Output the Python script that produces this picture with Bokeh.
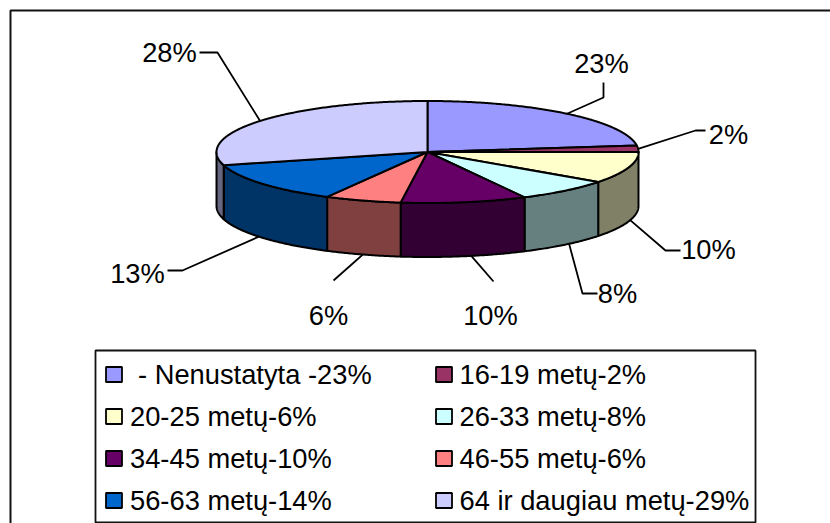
import numpy as np
from bokeh.plotting import figure
from bokeh.models import Range1d
from bokeh.core.properties import value
from bokeh.embed import file_html
from bokeh.resources import INLINE

# ---- data ----
slice_names = ["Nenustatyta", "16-19", "20-25", "26-33", "34-45", "46-55", "56-63", "64+"]
slice_values = [23, 2, 10, 8, 10, 6, 13, 28]
slice_labels = ["23%", "2%", "10%", "8%", "10%", "6%", "13%", "28%"]
legend_labels = ["- Nenustatyta -23%", "16-19 metų-2%", "20-25 metų-6%", "26-33 metų-8%",
                 "34-45 metų-10%", "46-55 metų-6%", "56-63 metų-14%", "64 ir daugiau metų-29%"]
top_colors = ["#9999FF", "#993366", "#FFFFCC", "#CCFFFF", "#660066", "#FF8080", "#0066CC", "#CCCCFF"]
side_colors = ["#4D4D80", "#4D1A33", "#808066", "#668080", "#330033", "#804040", "#003366", "#666680"]

# ---- layout (reference pixels) ----
CX, CY, RX, RY, DEPTH = 427, 151.5, 211, 51, 54
FONT = value("Liberation Sans")
SIZE = "27.3px"
label_xy = [(601, 63), (728, 134), (708, 249), (617, 293), (490, 315), (328, 315), (137, 273), (169, 52)]
leader_knee = [[(603, 97), (603, 82)], [(695, 130), (705, 130)], [(665, 250), (680, 250)],
               [(582, 293), (597, 293)], [(493, 281)], [(333, 280)], [(182, 270), (167, 270)],
               [(217, 52), (199, 52)]]
anchor_dx = [0, 0, 2, 4, 7, 0, -3, 0]
legend_rows = [374, 416, 458, 500]
legend_swatch_x = [113.5, 443.5]
legend_text_x = [129.5, 459]
legend_text_nudge = [8, 0, 0, 0, 0, 0, 0, 0]
# the reference's tilted projection shifts lower-left rim angles slightly
warp_at = [0, 126, 155, 191, 212, 259, 360]
warp_by = [0, 0, 2.2, 3.5, 4, 4.2, 0]

p = figure(width=830, height=523, x_range=Range1d(0, 830), y_range=Range1d(523, 0),
           x_axis_type=None, y_axis_type=None, toolbar_location=None,
           output_backend="svg", min_border=0)
p.grid.visible = False
p.outline_line_color = None
p.background_fill_color = "white"


def warp(a):
    return a - np.interp(a, warp_at, warp_by)


def rim(a0, a1, dy=0.0):
    t = np.radians(np.linspace(a0, a1, max(2, int(abs(a1 - a0) * 2) + 2)))
    return CX + RX * np.sin(t), CY - RY * np.cos(t) + dy


# outer frame
p.line([10, 10, 830], [523, 10, 10], line_color="#111111", line_width=2)

edges = warp(np.cumsum([0] + slice_values) * 3.6)

# side walls (only the front half of the rim shows)
for i in range(len(slice_values)):
    a0, a1 = max(edges[i], 90), min(edges[i + 1], 270)
    if a1 <= a0:
        continue
    xt, yt = rim(a0, a1)
    xb, yb = rim(a0, a1, DEPTH)
    p.patch(np.r_[xt, xb[::-1]], np.r_[yt, yb[::-1]], fill_color=side_colors[i],
            line_color="black", line_width=2, line_join="round")

# top faces
for i in range(len(slice_values)):
    xt, yt = rim(edges[i], edges[i + 1])
    p.patch(np.r_[CX, xt], np.r_[CY, yt], fill_color=top_colors[i],
            line_color="black", line_width=2, line_join="round")

# leaders and labels
for i, v in enumerate(slice_labels):
    mid = np.radians((edges[i] + edges[i + 1]) / 2)
    ax = CX + RX * np.sin(mid) + anchor_dx[i]
    t = np.arcsin(np.clip((ax - CX) / RX, -1, 1))
    front = np.cos(mid) < -0.1
    ay = CY + (RY * abs(np.cos(t)) + DEPTH if front else -RY * np.cos(mid))
    xs = [ax] + [k[0] for k in leader_knee[i]]
    ys = [ay] + [k[1] for k in leader_knee[i]]
    p.line(xs, ys, line_color="black", line_width=1.8)
    p.text([label_xy[i][0]], [label_xy[i][1]], text=[v], text_font=FONT, text_font_size=SIZE,
           text_align="center", text_baseline="middle", text_color="black")

# legend
p.quad(left=[95], right=[755], top=[350], bottom=[522], fill_color="white",
       line_color="#111111", line_width=1.8)
for i, lab in enumerate(legend_labels):
    col, row = i % 2, i // 2
    p.rect([legend_swatch_x[col]], [legend_rows[row]], width=16, height=15,
           fill_color=top_colors[i], line_color="black", line_width=1.8)
    p.text([legend_text_x[col] + legend_text_nudge[i]], [legend_rows[row]], text=[lab],
           text_font=FONT, text_font_size=SIZE, text_align="left", text_baseline="middle",
           text_color="black")

open("out.html", "w").write(file_html(p, INLINE))
